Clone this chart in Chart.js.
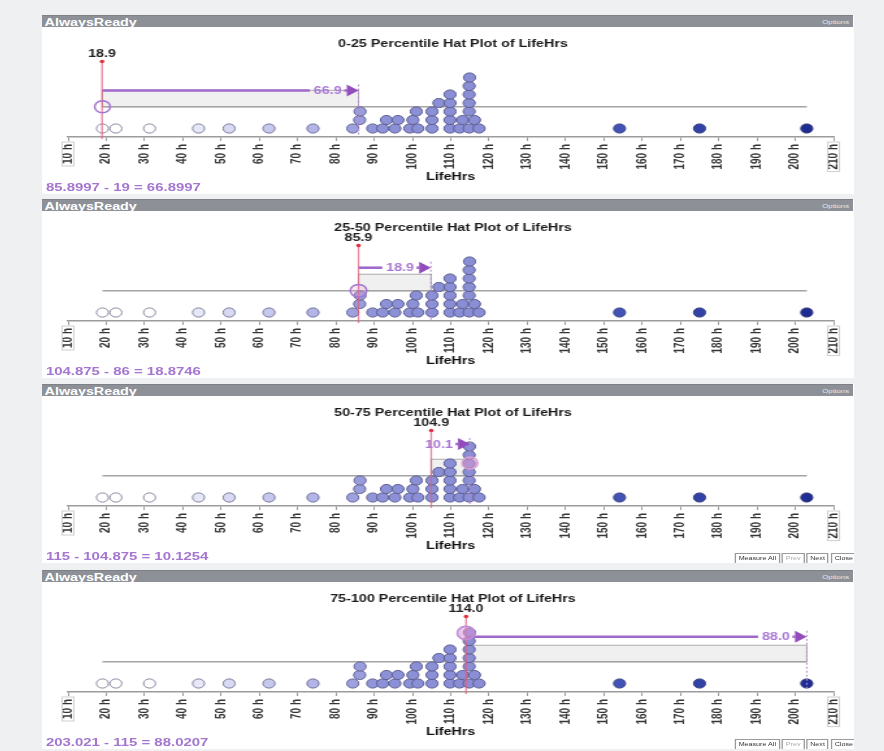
<!DOCTYPE html>
<html>
<head>
<meta charset="utf-8">
<script src="https://cdn.jsdelivr.net/npm/chart.js@4.4.1/dist/chart.umd.min.js"></script>
<style>
  html, body { margin: 0; padding: 0; }
  body {
    width: 884px; height: 751px; overflow: hidden; position: relative;
    background: #eff0f2;
    font-family: "Liberation Sans", Arial, sans-serif;
  }
  /* each panel is laid out at 624px and widened to 811px on screen */
  .panel {
    position: absolute; left: 42px; width: 624px; height: 179px;
    transform: scaleX(1.2997); transform-origin: 0 0; overflow: hidden;
  }
  .bar {
    height: 12px; line-height: 12px; background: #8d9197; color: #fff;
    font-size: 11px; font-weight: bold; padding-left: 2px; position: relative;
    border-top: 1px solid #7d8187; box-sizing: border-box;
  }
  .bar .opt {
    position: absolute; right: 3px; top: 0; font-size: 6px; font-weight: normal; color: #e6e7ea;
  }
  .body { position: relative; height: 167px; background: #fff; }
  .body canvas { position: absolute; left: 0; top: 0; }
  .foot {
    position: absolute; left: 3px; top: 154px; line-height: 12px;
    font-size: 11.5px; font-weight: bold; color: #a476cf;
  }
  .btns { position: absolute; left: 533px; top: 157px; height: 10px; display: flex; gap: 1.5px; }
  .btns span {
    display: block; height: 9px; line-height: 9px; font-size: 5.5px; padding: 0 2px;
    background: #fff; border: 1px solid #9a9a9a; color: #333; white-space: nowrap;
  }
  .btns span.off { color: #aaa; }
</style>
</head>
<body>
<script>
// ---- data -------------------------------------------------------------
const lifeHrs = [
  19.0, 22.5, 31.3, 44.1, 52.1, 62.5, 74.0,
  84.4, 86.2, 86.3, 89.6, 92.2, 93.2, 95.4, 96.2, 99.3, 100.1, 101.0, 101.4,
  105.1, 105.1, 105.1, 106.9, 109.8, 109.8, 109.8, 109.8, 109.8,
  112.3, 113.1, 114.8, 114.8, 114.8, 114.8, 114.8, 114.9, 116.2, 117.4,
  154.1, 175.0, 203.0
];
const axisHours = [10, 20, 30, 40, 50, 60, 70, 80, 90, 100, 110, 120, 130, 140, 150, 160, 170, 180, 190, 200, 210];
const panelTitles = [
  '0-25 Percentile Hat Plot of LifeHrs',
  '25-50 Percentile Hat Plot of LifeHrs',
  '50-75 Percentile Hat Plot of LifeHrs',
  '75-100 Percentile Hat Plot of LifeHrs'
];
const rangeLow  = [19, 85.8997, 104.875, 115];
const rangeHigh = [85.8997, 104.875, 115, 203.021];
const markerAt  = [18.9, 85.9, 104.9, 114.0];
const spanShown = [66.9, 18.9, 10.1, 88.0];
const footerLines = [
  '85.8997 - 19 = 66.8997',
  '104.875 - 86 = 18.8746',
  '115 - 104.875 = 10.1254',
  '203.021 - 115 = 88.0207'
];
const headerText = 'AlwaysReady';
const optionsText = 'Options';
const toolButtons = ['Measure All', 'Prev', 'Next', 'Close'];
const axisTitle = 'LifeHrs';
const unitSuffix = ' h';

// ---- layout -----------------------------------------------------------
const FONT = '"Liberation Sans", Arial, sans-serif';
const PANEL_TOP = [15, 199, 384, 570];
const CANVAS_W = 624, CANVAS_H = 167, AXIS_Y = 110, ROW_PX = 8.5;
const TITLE_PAD_TOP = 10.4, TITLE_PAD_BOTTOM = 2, TITLE_LINE = 13.2;
const AREA_TOP = TITLE_PAD_TOP + TITLE_LINE + TITLE_PAD_BOTTOM;
const Y_MAX = -1 + (AXIS_Y - AREA_TOP) / ROW_PX;
const BRIM_ROW = 2.56, CROWN_ROW = 4.5, MARK_ROW = 7.88, MARK_LABEL_ROW = 8.76;
const ARROW_ROW = [4.47, 5.27, 6.29, 5.5];
const RING = [
  { at: 'low',    row: 2.56, r: 6,   fill: 'rgba(255,255,255,0)',    stroke: '#a474d2' },
  { at: 'marker', row: 2.56, r: 6.3, fill: 'rgba(226,160,214,0.25)', stroke: '#a474d2' },
  { at: 'high',   row: 4.06, r: 6,   fill: 'rgba(226,150,206,0.5)',  stroke: '#d9a0d0' },
  { at: 'marker', row: 5.94, r: 6.8, fill: 'rgba(214,150,214,0.55)', stroke: '#c08ad6' }
];
const SHOW_BUTTONS = [false, false, true, true];
const STACK_GAP = 2.0;

// dot plot: each value sits on the lowest row that has room for it
function stackRows(values, gap) {
  const rows = [];
  return [...values].sort((a, b) => a - b).map(v => {
    let r = 0;
    while ((rows[r] || []).some(u => Math.abs(u - v) < gap)) r++;
    (rows[r] = rows[r] || []).push(v);
    return { x: v, y: r };
  });
}

// fill colour runs from white through lavender to deep blue along LifeHrs
const DOT_STOPS = [[30, [255, 255, 255]], [80, [168, 171, 226]], [92, [141, 145, 215]],
                   [120, [136, 141, 213]], [155, [64, 80, 180]], [205, [30, 44, 146]]];
function dotRGB(v) {
  if (v <= DOT_STOPS[0][0]) return DOT_STOPS[0][1];
  for (let i = 1; i < DOT_STOPS.length; i++) {
    const [v1, c1] = DOT_STOPS[i], [v0, c0] = DOT_STOPS[i - 1];
    if (v <= v1) {
      const t = (v - v0) / (v1 - v0);
      return c0.map((c, k) => c + (c1[k] - c) * t);
    }
  }
  return DOT_STOPS[DOT_STOPS.length - 1][1];
}
const rgb = c => `rgb(${c.map(Math.round).join(',')})`;
const dotFill = v => v == null ? '#8f93d8' : rgb(dotRGB(v));
const dotEdge = v => {
  const c = v == null ? [143, 147, 216] : dotRGB(v);
  return rgb(c.map((x, k) => x + ([60, 60, 100][k] - x) * 0.6));
};

// hat, brim, marker and measuring arrow for one panel
function hatPlugin(i) {
  const lo = Math.min(...lifeHrs), hi = Math.max(...lifeHrs);
  return {
    id: 'hat' + i,
    beforeDatasetsDraw(chart) {
      const { ctx, scales: { x, y } } = chart;
      ctx.save();
      // crown box between the two quantiles
      const bx0 = x.getPixelForValue(rangeLow[i]), bx1 = x.getPixelForValue(rangeHigh[i]);
      const by0 = y.getPixelForValue(CROWN_ROW), by1 = y.getPixelForValue(BRIM_ROW);
      ctx.fillStyle = '#f0f0f0';
      ctx.fillRect(bx0, by0, bx1 - bx0, by1 - by0);
      ctx.strokeStyle = '#adadad'; ctx.lineWidth = 1;
      ctx.strokeRect(bx0, by0, bx1 - bx0, by1 - by0);
      // brim from minimum to maximum
      ctx.strokeStyle = '#a4a4a4'; ctx.lineWidth = 1.5;
      ctx.beginPath();
      ctx.moveTo(x.getPixelForValue(lo), by1);
      ctx.lineTo(x.getPixelForValue(hi), by1);
      ctx.stroke();
      ctx.restore();
    },
    afterDatasetsDraw(chart) {
      const { ctx, scales: { x, y } } = chart;
      const axisPx = y.getPixelForValue(-1);
      ctx.save();
      // marker line and label
      const mx = x.getPixelForValue(markerAt[i]);
      const my = y.getPixelForValue(MARK_ROW);
      ctx.strokeStyle = 'rgba(222,96,128,0.75)'; ctx.lineWidth = 1.3;
      ctx.beginPath(); ctx.moveTo(mx, my); ctx.lineTo(mx, axisPx + 2); ctx.stroke();
      ctx.fillStyle = '#e0303e';
      ctx.beginPath(); ctx.arc(mx, my, 1.8, 0, Math.PI * 2); ctx.fill();
      ctx.fillStyle = '#222';
      ctx.font = `bold 11px ${FONT}`;
      ctx.textAlign = 'center'; ctx.textBaseline = 'middle';
      ctx.fillText(markerAt[i].toFixed(1), mx, y.getPixelForValue(MARK_LABEL_ROW));

      // measuring arrow with its length
      const ax0 = x.getPixelForValue(rangeLow[i]);
      const ax1 = x.getPixelForValue(rangeLow[i] + spanShown[i]);
      const ay = y.getPixelForValue(ARROW_ROW[i]);
      const label = spanShown[i].toFixed(1);
      const lw = ctx.measureText(label).width;
      const headLen = 9, labelRight = ax1 - 13, labelLeft = labelRight - lw;
      ctx.strokeStyle = '#a06acd'; ctx.lineWidth = 2.6;
      if (labelLeft - 3 > ax0) {
        ctx.beginPath(); ctx.moveTo(ax0, ay); ctx.lineTo(labelLeft - 3, ay); ctx.stroke();
      }
      ctx.beginPath(); ctx.moveTo(labelRight + 2, ay); ctx.lineTo(ax1 - headLen, ay); ctx.stroke();
      ctx.fillStyle = '#a977d3';
      ctx.textAlign = 'right';
      ctx.fillText(label, labelRight, ay + 0.5);
      ctx.fillStyle = '#924cbc';
      ctx.beginPath();
      ctx.moveTo(ax1, ay); ctx.lineTo(ax1 - headLen, ay - 6); ctx.lineTo(ax1 - headLen, ay + 6);
      ctx.closePath(); ctx.fill();
      // dotted drop line at the arrow tip
      ctx.strokeStyle = '#b88ad8'; ctx.lineWidth = 1; ctx.setLineDash([2, 2]);
      ctx.beginPath(); ctx.moveTo(ax1, ay - 6); ctx.lineTo(ax1, axisPx); ctx.stroke();
      ctx.setLineDash([]);

      // selection ring
      const ring = RING[i];
      const rv = ring.at === 'low' ? rangeLow[i] : ring.at === 'high' ? rangeHigh[i] : markerAt[i];
      ctx.fillStyle = ring.fill; ctx.strokeStyle = ring.stroke; ctx.lineWidth = 1.5;
      ctx.beginPath(); ctx.arc(x.getPixelForValue(rv), y.getPixelForValue(ring.row), ring.r, 0, Math.PI * 2);
      ctx.fill(); ctx.stroke();

      // frames round the first and last axis labels
      ctx.font = `bold 10px ${FONT}`;
      ctx.strokeStyle = '#cfcfcf'; ctx.lineWidth = 1;
      [axisHours[0], axisHours[axisHours.length - 1]].forEach(h => {
        const px = x.getPixelForValue(h);
        const w = ctx.measureText(h + unitSuffix).width;
        ctx.strokeRect(px - 4.5, x.top + 5, 9, w + 4);
      });
      ctx.restore();
    }
  };
}

// ---- build panels -----------------------------------------------------
const dots = stackRows(lifeHrs, STACK_GAP);

panelTitles.forEach((title, i) => {
  const panel = document.createElement('div');
  panel.className = 'panel';
  panel.style.top = PANEL_TOP[i] + 'px';
  const btns = SHOW_BUTTONS[i]
    ? `<div class="btns">${toolButtons.map(b => `<span class="${b === 'Prev' ? 'off' : ''}">${b}</span>`).join('')}</div>`
    : '';
  panel.innerHTML =
    `<div class="bar"><span>${headerText}</span><span class="opt">${optionsText}</span></div>` +
    `<div class="body"><canvas width="${CANVAS_W}" height="${CANVAS_H}"></canvas>` +
    `<div class="foot">${footerLines[i]}</div>${btns}</div>`;
  document.body.appendChild(panel);

  new Chart(panel.querySelector('canvas'), {
    type: 'scatter',
    data: {
      datasets: [{
        data: dots,
        pointRadius: 4.6,
        pointBorderWidth: 1,
        backgroundColor: c => dotFill(c.raw && c.raw.x),
        borderColor: c => dotEdge(c.raw && c.raw.x),
        clip: false
      }]
    },
    options: {
      responsive: false, animation: false, devicePixelRatio: 1,
      layout: { padding: { left: 20, right: 11.6, top: 0, bottom: 0 } },
      events: [],
      plugins: {
        legend: { display: false },
        tooltip: { enabled: false },
        title: {
          display: true, text: title, color: '#1b1b1b',
          font: { family: FONT, size: 11, weight: 'bold', lineHeight: 1.2 },
          padding: { top: TITLE_PAD_TOP, bottom: TITLE_PAD_BOTTOM }
        }
      },
      scales: {
        x: {
          type: 'linear', position: 'bottom',
          min: axisHours[0], max: axisHours[axisHours.length - 1],
          afterFit(s) { s.height = CANVAS_H - AXIS_Y; },
          afterBuildTicks(s) { s.ticks = axisHours.map(v => ({ value: v })); },
          border: { display: true, color: '#9c9c9c', width: 1.5 },
          grid: { drawOnChartArea: false, drawTicks: true, tickLength: 4, color: '#9c9c9c' },
          ticks: {
            autoSkip: false, minRotation: 90, maxRotation: 90, padding: 3,
            color: '#363636', font: { family: FONT, size: 10, weight: 'bold' },
            callback: v => v + unitSuffix
          },
          title: {
            display: true, text: axisTitle, color: '#111',
            font: { family: FONT, size: 11, weight: 'bold', lineHeight: 1.2 },
            padding: { top: 0, bottom: 10.4 }
          }
        },
        y: { display: false, min: -1, max: Y_MAX }
      }
    },
    plugins: [hatPlugin(i)]
  });
});
</script>
</body>
</html>
